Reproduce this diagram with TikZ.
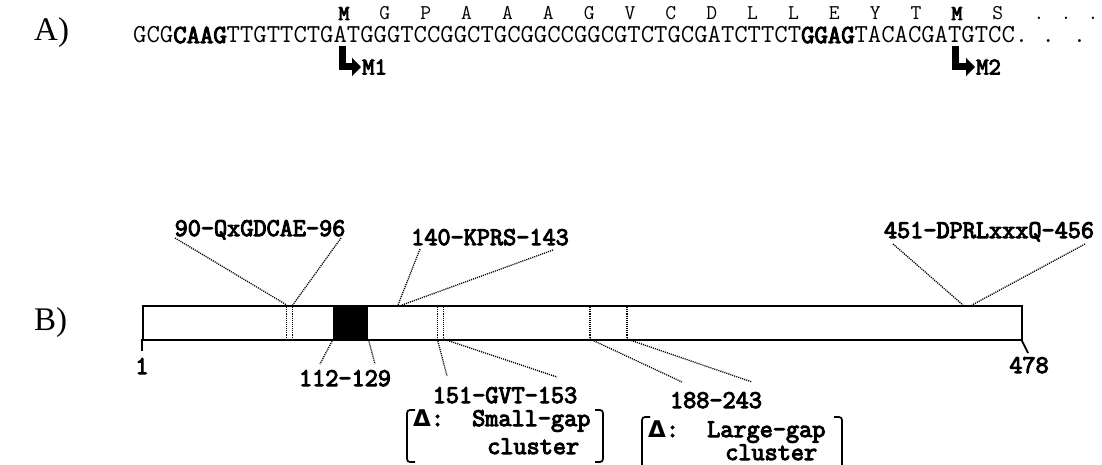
\documentclass[tikz,border=0pt]{standalone}
\usepackage{fontspec}
\usetikzlibrary{arrows.meta}
\newfontfamily\dvsans{DejaVu Sans}
\newfontfamily\ttheavy[FakeBold=4]{Latin Modern Mono}
\newfontfamily\panelfont{Liberation Serif}
\tikzset{
  seqtxt/.style={font=\fontsize{25.94}{26}\selectfont\ttfamily, inner sep=0pt},
  aatxt/.style={font=\fontsize{21}{21}\selectfont\ttfamily, inner sep=0pt},
  lbl/.style={font=\fontsize{25.5}{26}\selectfont\ttheavy, inner sep=0pt},
  mlbl/.style={font=\fontsize{24}{24}\selectfont\ttheavy, inner sep=0pt},
  panel/.style={font=\fontsize{33}{33}\selectfont\panelfont, inner sep=0pt},
  dotline/.style={line width=1.3pt, dash pattern=on 1.1pt off 1.0pt},
  bigarrow/.style={line width=7pt, -{Triangle[length=9pt,width=18pt]}},
  brk/.style={line width=1.7pt, rounded corners=3pt},
  tick/.style={line width=1.8pt},
}
\newcommand{\dlt}{{\dvsans\bfseries\fontsize{23}{23}\selectfont Δ}}
\begin{document}
\begin{tikzpicture}[x=1pt,y=-1pt]
\useasboundingbox (0,0) rectangle (1102,465);
% ---------------- Panel A ----------------
\node[panel, anchor=west] (pa) at (34,33) {A)};
\node[seqtxt, anchor=base west] (seq) at (133,43)
  {GCG{\ttheavy CAAG}TTGTTCTGATGGGTCCGGCTGCGGCCGGCGTCTGCGATCTTCT{\ttheavy GGAG}TACACGATGTCC. . .};
\foreach \l [count=\k from 0] in {{\ttheavy M},G,P,A,A,A,G,V,C,D,L,L,E,Y,T,{\ttheavy M},S}
  \node[aatxt, anchor=base] (aa\k) at ({344+40.86*\k},20) {\l};
\foreach \x [count=\k] in {1039,1066,1093}
  \node[aatxt, anchor=base] (aadot\k) at (\x,20) {.};
% start arrows
\coordinate (m1top) at (342,46);
\node[mlbl, anchor=west] (m1) at (362,67) {M1};
\draw[bigarrow] (m1top) |- ([xshift=-1pt]m1.west);
\coordinate (m2top) at (955,46);
\node[mlbl, anchor=west] (m2) at (976,67) {M2};
\draw[bigarrow] (m2top) |- ([xshift=-1pt]m2.west);
% ---------------- Panel B ----------------
\node[panel, anchor=west] (pb) at (34,323) {B)};
\node[draw, line width=1.7pt, minimum width=879pt, minimum height=34pt, inner sep=0pt,
      anchor=north west] (bar) at (142,305) {};
\node[fill=black, minimum width=35pt, minimum height=34pt, inner sep=0pt,
      anchor=north west] (hbox) at (333,305) {};
% dotted marks inside the bar
\foreach \x/\n in {286.7/a,292.7/b,437.3/c,443.3/d,590/e,627/f}{
  \coordinate (t\n) at (\x,305);
  \coordinate (b\n) at (\x,339);
  \draw[dotline] (t\n) -- (b\n);
}
% labels above
\node[lbl, anchor=base] (l90) at (260,236) {90-QxGDCAE-96};
\coordinate (l90a) at (175,238);
\coordinate (l90b) at (341,238);
\draw[dotline] (l90a) -- (ta);
\draw[dotline] (l90b) -- (tb);
\node[lbl, anchor=base] (l140) at (490,245) {140-KPRS-143};
\coordinate (l140a) at (420,249);
\coordinate (l140b) at (553,250);
\coordinate (k1) at (398,305);
\coordinate (k2) at (402,305);
\draw[dotline] (l140a) -- (k1);
\draw[dotline] (l140b) -- (k2);
\node[lbl, anchor=base] (l451) at (989,238) {451-DPRLxxxQ-456};
\coordinate (l451a) at (893,244);
\coordinate (l451b) at (1085,244);
\coordinate (q1) at (963,305);
\coordinate (q2) at (972,305);
\draw[dotline] (l451a) -- (q1);
\draw[dotline] (l451b) -- (q2);
% ends
\coordinate (e1) at (142,339);
\coordinate (e1b) at (142,351);
\draw[tick] (e1) -- (e1b);
\node[lbl, anchor=base] (n1) at (142,374) {1};
\coordinate (e2) at (1021,339);
\coordinate (e2b) at (1028,353);
\draw[tick] (e2) -- (e2b);
\node[lbl, anchor=base] (n478) at (1029,373) {478};
% labels below
\node[lbl, anchor=base] (l112) at (345,386) {112-129};
\coordinate (h1) at (320,364);
\coordinate (h2) at (375,364);
\draw[dotline] (hbox.south west) -- (h1);
\draw[dotline] (hbox.south east) -- (h2);
\node[lbl, anchor=base, text depth=0pt] (l151) at (505,403) {151-GVT-153};
\coordinate (g1) at (447,376);
\coordinate (g2) at (557,377);
\draw[dotline] (bc) -- (g1);
\draw[dotline] (bd) -- (g2);
\node[lbl, anchor=base, text depth=0pt] (l188) at (716,408) {188-243};
\coordinate (r1) at (682,382);
\coordinate (r2) at (752,382);
\draw[dotline] (be) -- (r1);
\draw[dotline] (bf) -- (r2);
% brackets
\draw[brk] (415,410) -- (407,410) -- (407,462) -- (415,462);
\draw[brk] (595,410) -- (603,410) -- (603,462) -- (595,462);
\node[lbl, anchor=base west] (d1) at (413,426) {\dlt:};
\node[lbl, anchor=base west] (s1) at (472,426) {Small-gap};
\node[lbl, anchor=base west] (c1) at (487,454) {cluster};
\draw[brk] (650,417) -- (642,417) -- (642,465);
\draw[brk] (834,417) -- (842,417) -- (842,465);
\node[lbl, anchor=base west] (d2) at (648,437) {\dlt:};
\node[lbl, anchor=base west] (s2) at (707,437) {Large-gap};
\node[lbl, anchor=base west] (c2) at (725,460) {cluster};
\end{tikzpicture}
\end{document}
